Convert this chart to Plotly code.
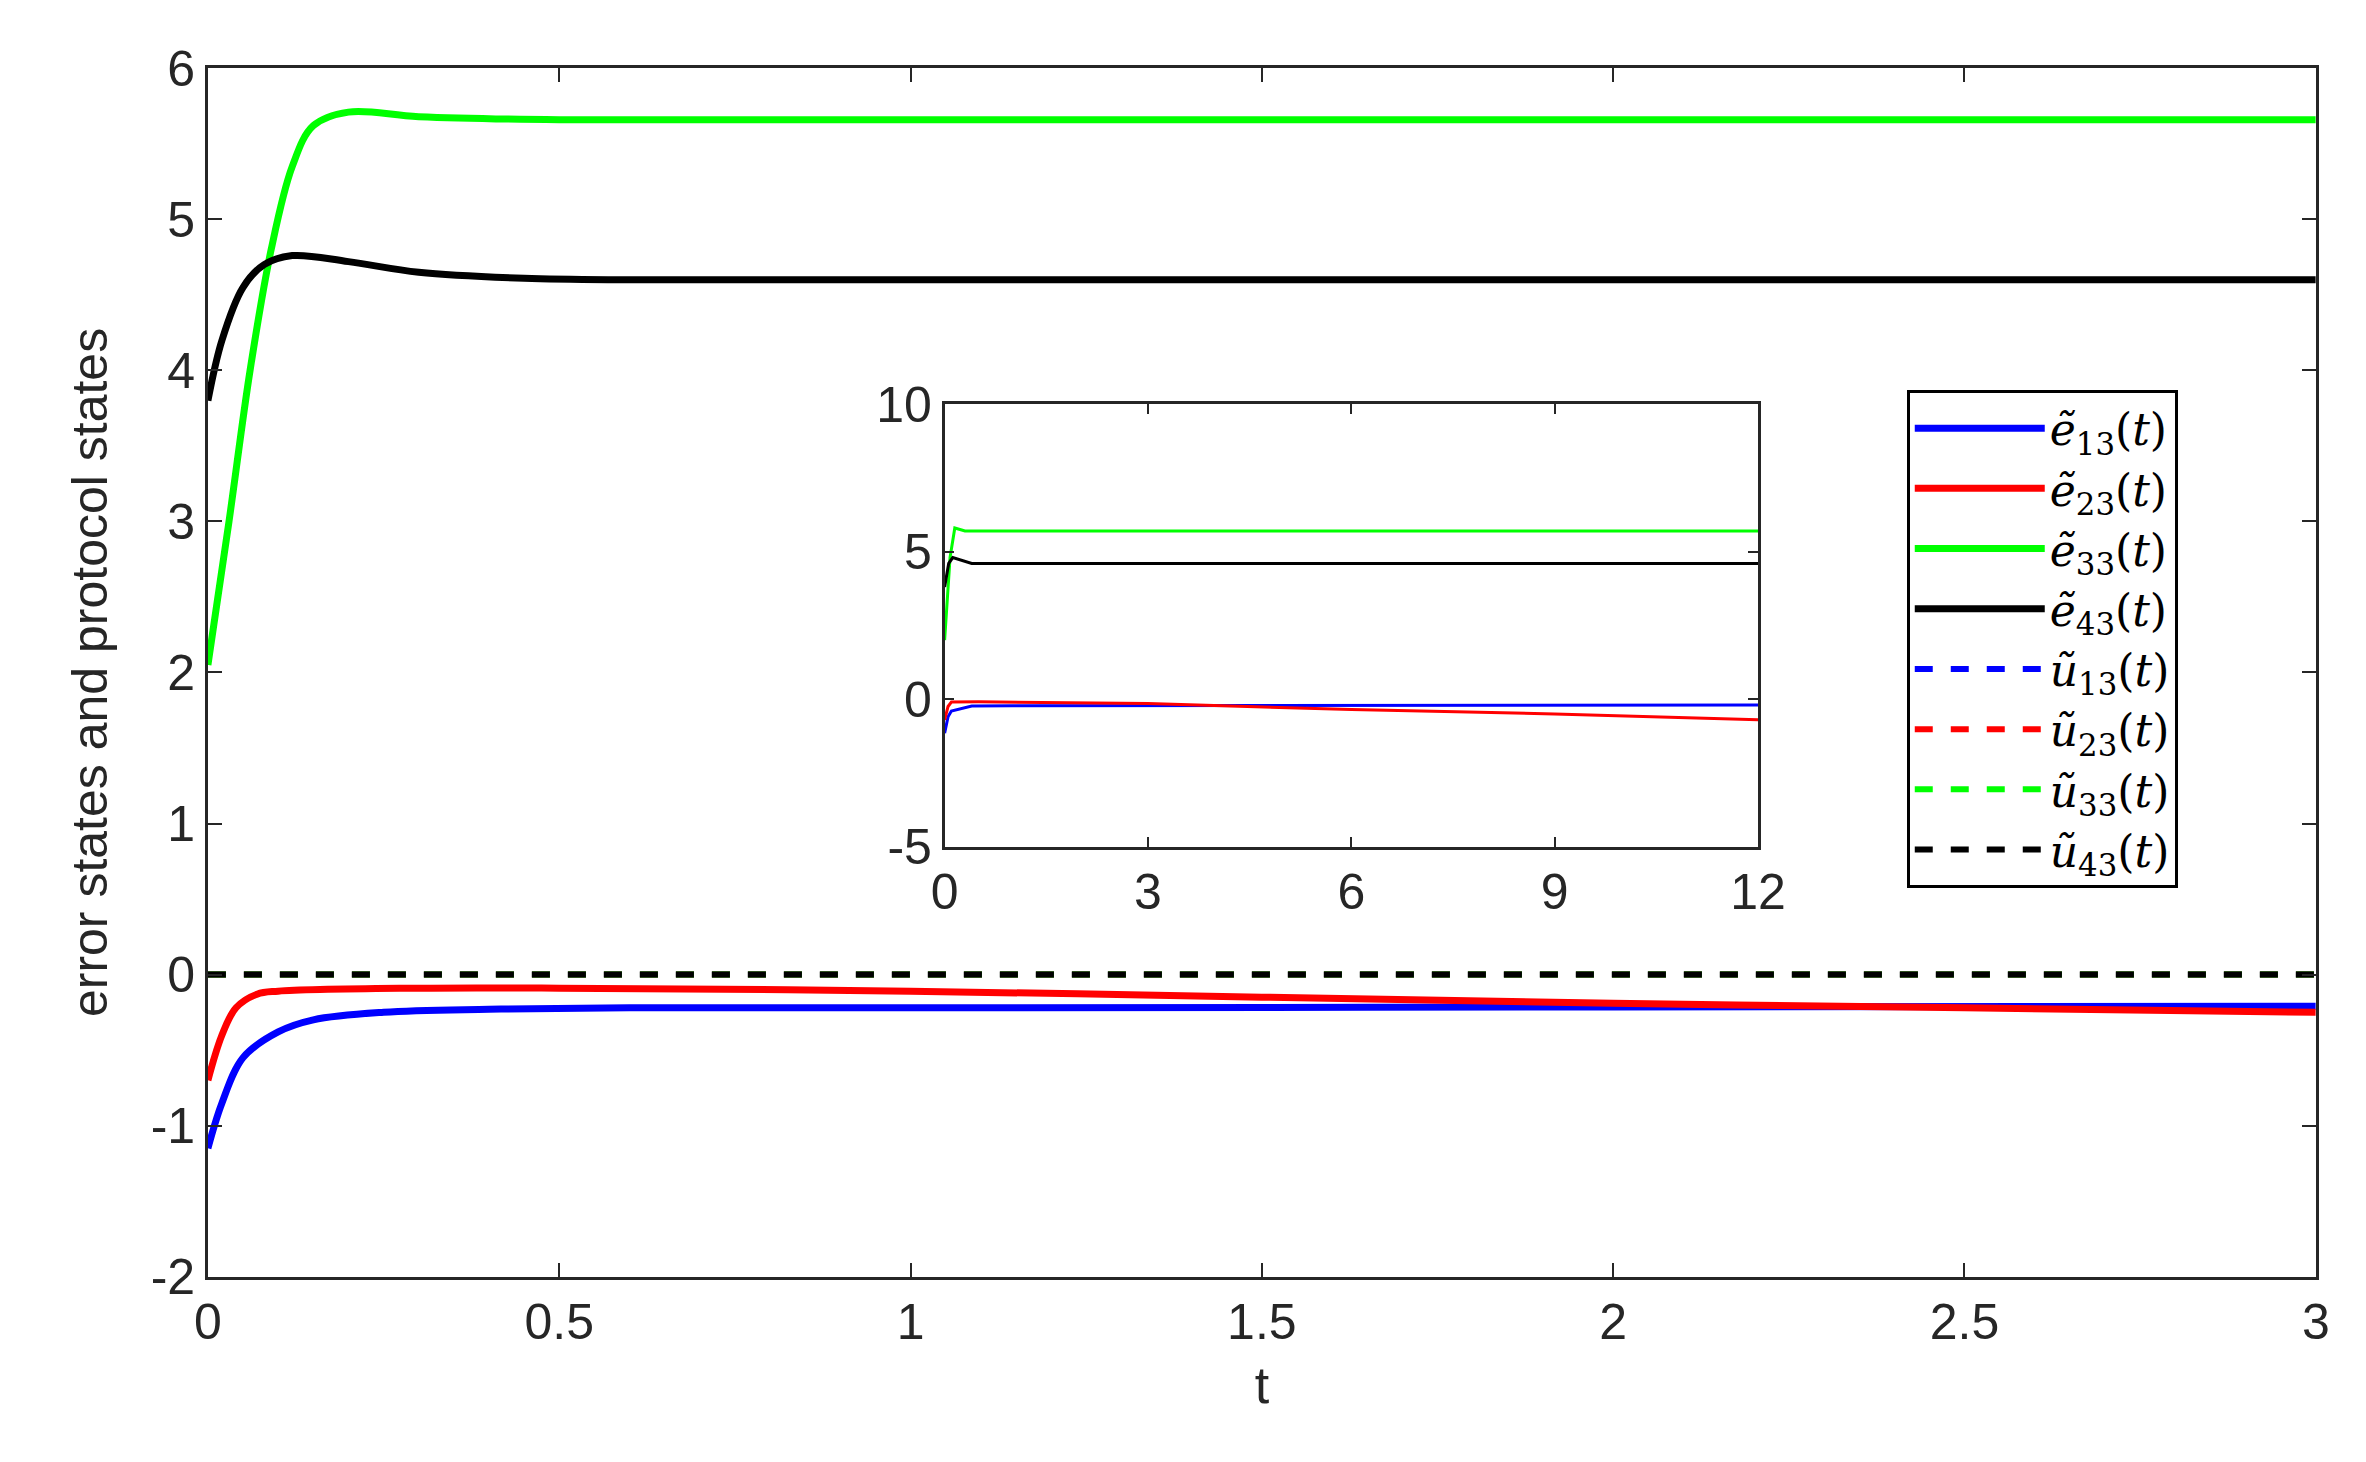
import plotly.graph_objects as go

# main plot data (t in [0, 3])
t_e13 = [0, 0.02, 0.05, 0.1, 0.15, 0.25, 0.4, 0.6, 1.0, 2.0, 3.0]
e13 = [-1.15, -0.85, -0.55, -0.38, -0.30, -0.25, -0.23, -0.22, -0.22, -0.215, -0.21]
t_e23 = [0, 0.02, 0.04, 0.07, 0.1, 0.3, 0.5, 1.0, 1.5, 2.0, 2.5, 3.0]
e23 = [-0.7, -0.4, -0.22, -0.13, -0.11, -0.09, -0.09, -0.11, -0.15, -0.19, -0.22, -0.25]
t_e33 = [0, 0.03, 0.06, 0.09, 0.12, 0.15, 0.2, 0.3, 0.5, 1.0, 3.0]
e33 = [2.05, 3.0, 4.0, 4.8, 5.35, 5.62, 5.71, 5.68, 5.66, 5.66, 5.66]
t_e43 = [0, 0.02, 0.05, 0.08, 0.12, 0.2, 0.3, 0.45, 0.6, 1.0, 3.0]
e43 = [3.8, 4.2, 4.55, 4.7, 4.76, 4.72, 4.65, 4.61, 4.6, 4.6, 4.6]
t_u = [0, 3.0]
u_zero = [0, 0]

# inset data (t in [0, 12])
ti_e13 = [0, 0.05, 0.1, 0.4, 1.0, 12]
ei13 = [-1.15, -0.6, -0.4, -0.23, -0.22, -0.2]
ti_e23 = [0, 0.05, 0.1, 0.5, 3, 6, 9, 12]
ei23 = [-0.7, -0.25, -0.1, -0.09, -0.15, -0.35, -0.5, -0.7]
ti_e33 = [0, 0.08, 0.15, 0.3, 12]
ei33 = [2.0, 4.8, 5.8, 5.7, 5.7]
ti_e43 = [0, 0.06, 0.12, 0.4, 12]
ei43 = [3.8, 4.6, 4.8, 4.6, 4.6]

# tick labels
x_ticks = [0, 0.5, 1, 1.5, 2, 2.5, 3]
x_labels = ["0", "0.5", "1", "1.5", "2", "2.5", "3"]
y_ticks = [-2, -1, 0, 1, 2, 3, 4, 5, 6]
y_labels = ["-2", "-1", "0", "1", "2", "3", "4", "5", "6"]
xi_ticks = [0, 3, 6, 9, 12]
xi_labels = ["0", "3", "6", "9", "12"]
yi_ticks = [-5, 0, 5, 10]
yi_labels = ["-5", "0", "5", "10"]

names = ["<i>ẽ</i><sub>13</sub>(<i>t</i>)", "<i>ẽ</i><sub>23</sub>(<i>t</i>)",
         "<i>ẽ</i><sub>33</sub>(<i>t</i>)", "<i>ẽ</i><sub>43</sub>(<i>t</i>)",
         "<i>ũ</i><sub>13</sub>(<i>t</i>)", "<i>ũ</i><sub>23</sub>(<i>t</i>)",
         "<i>ũ</i><sub>33</sub>(<i>t</i>)", "<i>ũ</i><sub>43</sub>(<i>t</i>)"]
colors = ["#0000ff", "#ff0000", "#00ff00", "#000000"]

fig = go.Figure()
main = [(t_e13, e13), (t_e23, e23), (t_e33, e33), (t_e43, e43)]
for (x, y), c, n in zip(main, colors, names[:4]):
    fig.add_trace(go.Scatter(x=x, y=y, mode="lines", name=n, line=dict(color=c, width=7, shape="spline")))
for c, n in zip(colors, names[4:]):
    fig.add_trace(go.Scatter(x=t_u, y=u_zero, mode="lines", name=n, line=dict(color=c, width=6, dash="dash")))

inset = [(ti_e13, ei13), (ti_e23, ei23), (ti_e33, ei33), (ti_e43, ei43)]
for (x, y), c in zip(inset, colors):
    fig.add_trace(go.Scatter(x=x, y=y, mode="lines", showlegend=False, xaxis="x2", yaxis="y2",
                             line=dict(color=c, width=3)))

ax = dict(showline=True, linecolor="#262626", linewidth=2.5, mirror="ticks", ticks="inside",
          ticklen=14, tickwidth=2, tickcolor="#262626", showgrid=False, zeroline=False,
          tickfont=dict(size=50, color="#262626"))

fig.update_layout(
    width=2366, height=1462, plot_bgcolor="white", paper_bgcolor="white",
    font=dict(family="Liberation Sans, Arial", color="#262626"),
    margin=dict(l=0, r=0, t=0, b=0),
    xaxis=dict(ax, domain=[0.08, 0.987], range=[0, 3], tickvals=x_ticks, ticktext=x_labels,
               title=dict(text="t", font=dict(size=52), standoff=18)),
    yaxis=dict(ax, domain=[0.117, 0.977], range=[-2, 6], tickvals=y_ticks, ticktext=y_labels,
               title=dict(text="error states and protocol states", font=dict(size=50), standoff=28)),
    xaxis2=dict(ax, domain=[0.397, 0.747], anchor="y2", range=[0, 12], tickvals=xi_ticks,
                ticktext=xi_labels, ticklen=10),
    yaxis2=dict(ax, domain=[0.423, 0.738], anchor="x2", range=[-5, 10], tickvals=yi_ticks,
                ticktext=yi_labels, ticklen=10),
    legend=dict(x=0.811, y=0.748, xanchor="left", yanchor="top", bgcolor="white",
                bordercolor="#000000", borderwidth=3,
                font=dict(family="DejaVu Serif", size=44, color="#000000"),
                itemwidth=130, tracegroupgap=0),
)

fig.write_html("out.html")
